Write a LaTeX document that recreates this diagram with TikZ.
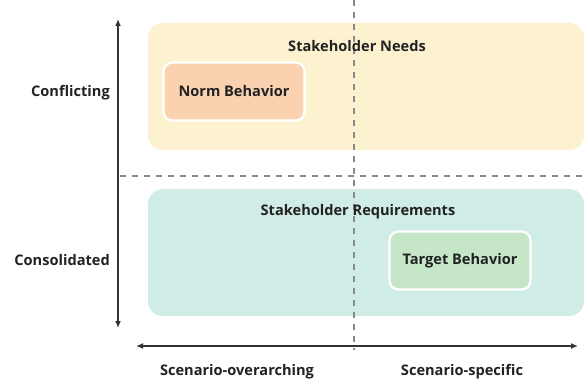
\documentclass[tikz,border=0pt]{standalone}
\usepackage{fontspec}
\setmainfont{Open Sans}
\usetikzlibrary{arrows.meta}
\definecolor{txt}{HTML}{222222}
\definecolor{yellowbg}{HTML}{FDF2CF}
\definecolor{tealbg}{HTML}{CFECE6}
\definecolor{peach}{HTML}{FAD2AF}
\definecolor{mint}{HTML}{C5E7C8}
\definecolor{dashgray}{HTML}{8A8A8A}
\definecolor{axis}{HTML}{333333}
\tikzset{
  region/.style={draw=none, rounded corners=15pt, minimum width=436pt, minimum height=127pt, inner sep=0pt},
  behav/.style={draw=white, line width=2.2pt, rounded corners=9pt, minimum width=141pt, minimum height=58pt, inner sep=0pt, font=\bfseries\fontsize{14.6}{17}\selectfont, text=txt},
  title/.style={font=\bfseries\fontsize{14.6}{17}\selectfont, text=txt, inner sep=0pt},
  axlabel/.style={font=\bfseries\fontsize{14.6}{17}\selectfont, text=txt, inner sep=0pt},
  axisline/.style={draw=axis, line width=1.4pt, {Latex[length=7pt,width=6pt]}-{Latex[length=7pt,width=6pt]}},
  divider/.style={draw=dashgray, line width=1.3pt, dash pattern=on 6pt off 6pt},
}
\begin{document}
\begin{tikzpicture}[x=1pt,y=-1pt]
\useasboundingbox (0,0) rectangle (585,382);
% regions
\node[region, fill=yellowbg] (needs) at (366,86.5) {};
\node[region, fill=tealbg] (reqs) at (366,252.5) {};
% dividers
\coordinate (vtop) at (354,0);
\coordinate (vbot) at (354,350);
\coordinate (hl) at (120,176);
\coordinate (hr) at (585,176);
\draw[divider] (vtop) -- (vbot);
\draw[divider] (hl) -- (hr);
% titles
\node[title] (needsT) at (357,46) {Stakeholder Needs};
\node[title] (reqsT) at (358,212) {Stakeholder Requirements};
% behaviours
\node[behav, fill=peach] (norm) at (234,91.5) {Norm Behavior};
\node[behav, fill=mint] (target) at (460,260.5) {Target Behavior};
% axes
\coordinate (ytop) at (118,19);
\coordinate (ybot) at (118,328);
\coordinate (xl) at (136,346);
\coordinate (xr) at (578,346);
\draw[axisline] (ytop) -- (ybot);
\draw[axisline] (xl) -- (xr);
% axis labels
\node[axlabel, anchor=east] (confl) at (110,93) {Conflicting};
\node[axlabel, anchor=east] (cons) at (110,260) {Consolidated};
\node[axlabel] (overarch) at (237,372) {Scenario-overarching};
\node[axlabel] (specific) at (462,372) {Scenario-specific};
\end{tikzpicture}
\end{document}
